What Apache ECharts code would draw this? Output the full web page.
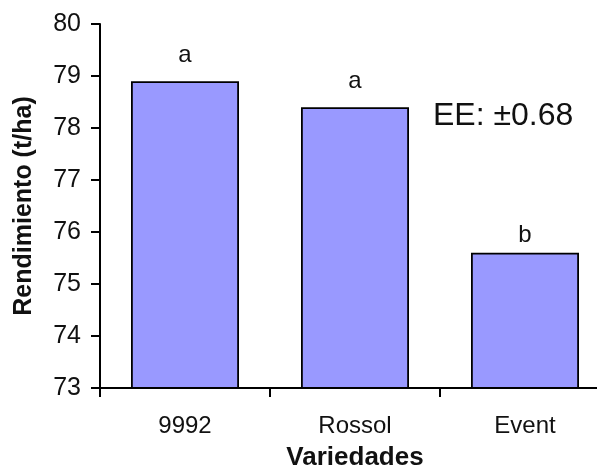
<!DOCTYPE html>
<html>
<head>
<meta charset="utf-8">
<script src="https://cdn.jsdelivr.net/npm/echarts@6/dist/echarts.min.js"></script>
<style>
  html, body { margin: 0; padding: 0; background: #fff; }
  #chart { width: 597px; height: 469px; }
</style>
</head>
<body>
<div id="chart"></div>
<script>
// Varieties and their mean yield (t/ha)
const variedades = ['9992', 'Rossol', 'Event'];
const rendimiento = [78.9, 78.4, 75.6];
// Significance letters drawn above each bar
const letras = ['a', 'a', 'b'];
const letraGap = [14, 14, 5];
const yTicks = { min: 73, max: 80, step: 1 };
const errorText = 'EE: ±0.68';

const FONT = '"Liberation Sans", Arial, sans-serif';
const INK = '#111';

const chart = echarts.init(document.getElementById('chart'));

chart.setOption({
  animation: false,
  grid: {
    left: 100, top: 24, width: 510, bottom: 81,
    containLabel: false,
    outerBoundsMode: 'none'
  },
  xAxis: {
    type: 'category',
    data: variedades,
    name: 'Variedades',
    nameLocation: 'middle',
    nameGap: 57,
    nameTextStyle: { fontFamily: FONT, fontSize: 26, fontWeight: 'bold', color: INK },
    axisLine: { lineStyle: { color: '#000', width: 2 } },
    axisTick: { show: true, length: 9, lineStyle: { color: '#000', width: 2 } },
    axisLabel: { fontFamily: FONT, fontSize: 24, color: INK, margin: 26 },
    splitLine: { show: false }
  },
  yAxis: {
    type: 'value',
    min: yTicks.min,
    max: yTicks.max,
    interval: yTicks.step,
    name: 'Rendimiento (t/ha)',
    nameLocation: 'middle',
    nameGap: 63,
    nameRotate: 90,
    nameTextStyle: { fontFamily: FONT, fontSize: 25, fontWeight: 'bold', color: INK },
    axisLine: { show: true, lineStyle: { color: '#000', width: 2 } },
    axisTick: { show: true, length: 9, lineStyle: { color: '#000', width: 2 } },
    axisLabel: { fontFamily: FONT, fontSize: 25, color: INK, margin: 19 },
    splitLine: { show: false }
  },
  series: [{
    type: 'bar',
    barWidth: 108,
    data: rendimiento.map((v, i) => ({
      value: v,
      label: {
        show: true,
        position: 'top',
        distance: letraGap[i],
        formatter: letras[i],
        fontFamily: FONT,
        fontSize: 24,
        color: INK
      }
    })),
    itemStyle: { color: '#9999FF', borderColor: '#000', borderWidth: 1.8 }
  }],
  graphic: [{
    type: 'text',
    left: 433,
    top: 100,
    style: {
      text: errorText,
      fontFamily: FONT,
      fontSize: 32,
      fill: INK
    }
  }]
});
</script>
</body>
</html>
